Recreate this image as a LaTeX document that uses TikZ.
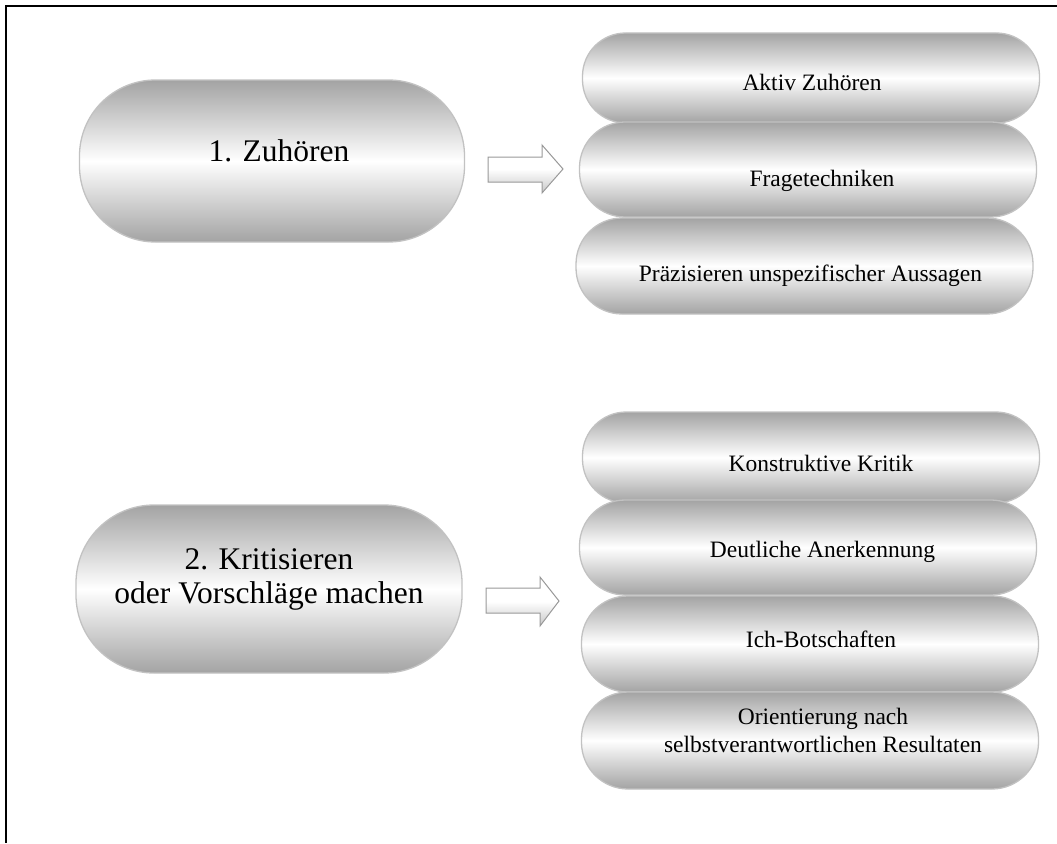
\documentclass[tikz,border=0pt]{standalone}
\usepackage{fontspec}
\setmainfont{Liberation Serif}
\begin{document}
\begin{tikzpicture}[x=1pt,y=-1pt,
  pill/.style={draw=black!24, line width=1.3pt, top color=black!36, bottom color=black!36, middle color=white, inner sep=0pt},
  small/.style={pill, minimum width=457pt, minimum height=#1, rounded corners=0.48*#1},
  txt/.style={anchor=base, inner sep=0pt, font=\fontsize{23.5}{28}\selectfont, align=center},
  bigtxt/.style={anchor=base, inner sep=0pt, font=\fontsize{31.5}{34}\selectfont, align=center},
  blockarrow/.style={draw=black!40, line width=1pt, top color=white, bottom color=black!22, middle color=white},
  frame/.style={line width=2pt, black}]
\useasboundingbox (0,0) rectangle (1057,843);
% frame (top and left only)
\coordinate (f1) at (1057,6);
\coordinate (f0) at (6,6);
\coordinate (f2) at (6,843);
\draw[frame] (f1) -- (f0) -- (f2);

% big pills
\node[pill, minimum width=385pt, minimum height=162pt, rounded corners=76pt] (z) at (272,161) {};
\node[bigtxt] (zt) at (279,161) {1. Zuhören};
\node[pill, minimum width=386pt, minimum height=168pt, rounded corners=78pt] (k) at (269,589) {};
\node[bigtxt] (kt) at (269,603) {2. Kritisieren\\oder Vorschläge machen};

% block arrows
\draw[blockarrow] (488,157) -- (542,157) -- (542,145) -- (563,169) -- (542,193) -- (542,182) -- (488,182) -- cycle;
\draw[blockarrow] (486,588) -- (540,588) -- (540,577) -- (559,601) -- (540,626) -- (540,613) -- (486,613) -- cycle;

% group 1
\node[small=90pt] (a1) at (811,78) {};
\node[txt] at (812,90) {Aktiv Zuhören};
\node[small=95pt] (a2) at (808,169.5) {};
\node[txt] at (822,186) {Fragetechniken};
\node[small=96pt] (a3) at (804.5,266) {};
\node[txt] at (810.5,281) {Präzisieren unspezifischer Aussagen};

% group 2
\node[small=91pt] (b1) at (811,457.5) {};
\node[txt] at (821,471) {Konstruktive Kritik};
\node[small=95pt] (b2) at (808,547.5) {};
\node[txt] at (822.5,557.5) {Deutliche Anerkennung};
\node[small=96pt] (b3) at (810,644) {};
\node[txt] at (821,647.5) {Ich-Botschaften};
\node[small=97pt] (b4) at (810,740.5) {};
\node[txt] at (823,752) {Orientierung nach\\selbstverantwortlichen Resultaten};
\end{tikzpicture}
\end{document}
